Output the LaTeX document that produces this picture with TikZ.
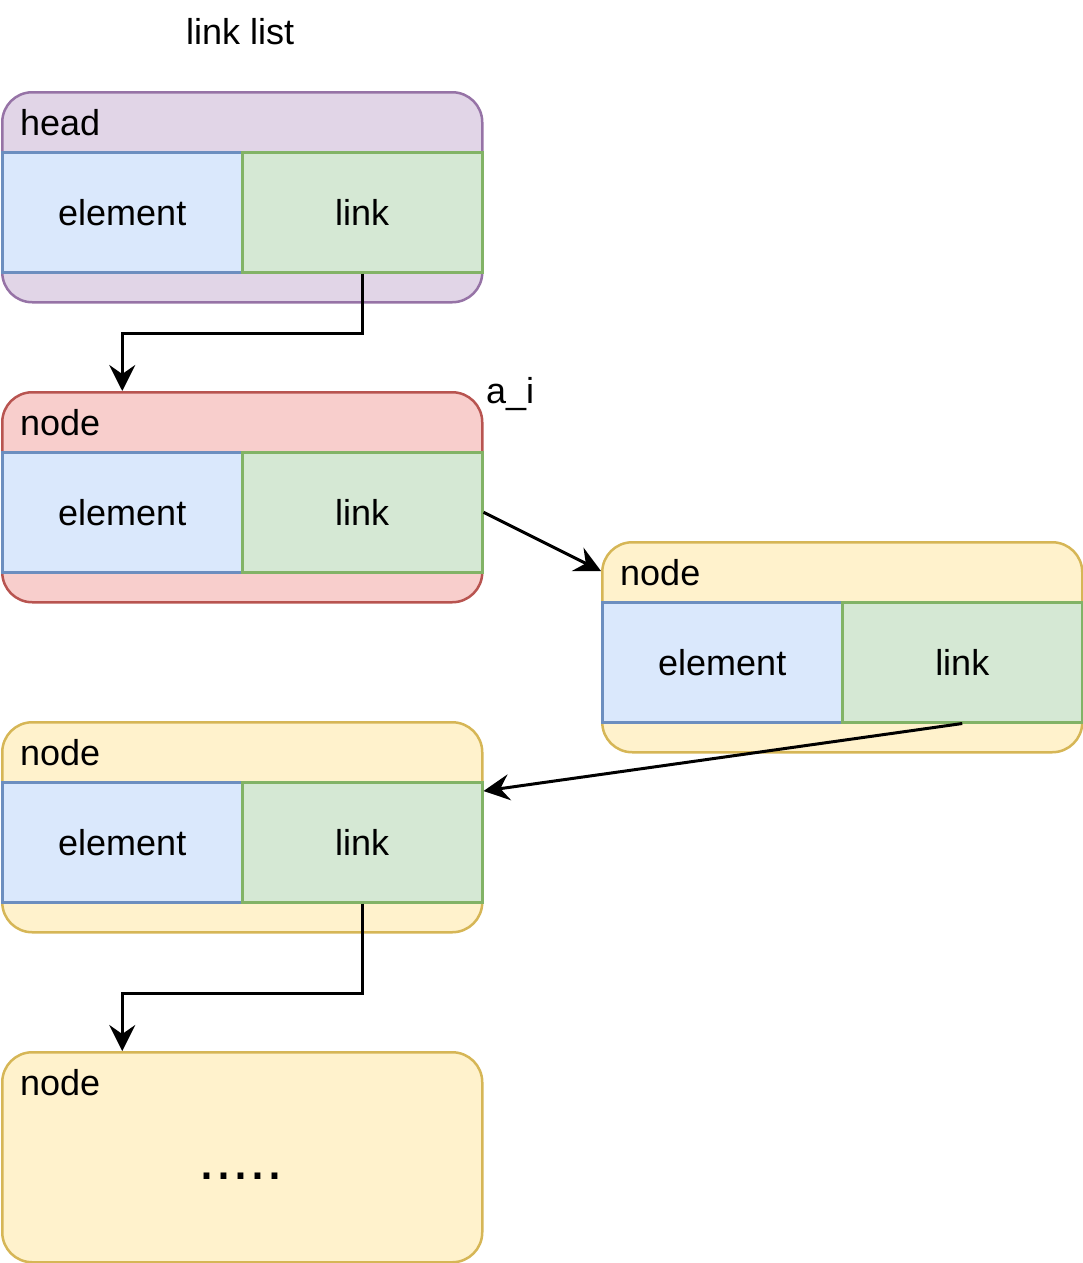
\documentclass[tikz,border=0pt]{standalone}
\usepackage{fontspec}
\setmainfont{Liberation Sans}
\usetikzlibrary{arrows.meta,calc}

\definecolor{purplefill}{HTML}{E1D5E7}
\definecolor{purpleline}{HTML}{9673A6}
\definecolor{redfill}{HTML}{F8CECC}
\definecolor{redline}{HTML}{B85450}
\definecolor{yellowfill}{HTML}{FFF2CC}
\definecolor{yellowline}{HTML}{D6B656}
\definecolor{bluefill}{HTML}{DAE8FC}
\definecolor{blueline}{HTML}{6C8EBF}
\definecolor{greenfill}{HTML}{D5E8D4}
\definecolor{greenline}{HTML}{82B366}

\begin{document}
\begin{tikzpicture}[x=1pt,y=-1pt,
  lane/.style={rounded corners=30pt, line width=2.5pt, inner sep=0pt,
    minimum width=480pt, minimum height=210pt, anchor=north west},
  headlane/.style={lane, fill=purplefill, draw=purpleline},
  redlane/.style={lane, fill=redfill, draw=redline},
  yellowlane/.style={lane, fill=yellowfill, draw=yellowline},
  cell/.style={line width=2.5pt, inner sep=0pt, minimum width=240pt,
    minimum height=120pt, anchor=north west,
    font=\fontsize{36}{43}\selectfont},
  elemcell/.style={cell, fill=bluefill, draw=blueline},
  linkcell/.style={cell, fill=greenfill, draw=greenline},
  label/.style={inner sep=0pt, anchor=base west,
    font=\fontsize{36}{43}\selectfont},
  arr/.style={line width=3pt, -{Stealth[length=26pt,width=26pt,inset=9pt]}}
]
\useasboundingbox (0,0) rectangle (1083,1263);

% title
\node[label] (title) at (186,45) {link list};

% head
\node[headlane] (head) at (1,91) {};
\node[elemcell] (h-e) at (1,151) {element};
\node[linkcell] (h-l) at (241,151) {link};
\node[label] (head-t) at (20,135) {head};

% node a_i
\node[redlane] (n1) at (1,391) {};
\node[elemcell] (n1-e) at (1,451) {element};
\node[linkcell] (n1-l) at (241,451) {link};
\node[label] (n1-t) at (20,435) {node};
\node[label] (ai) at (486,403) {a\_i};

% next node
\node[yellowlane] (n2) at (601,541) {};
\node[elemcell] (n2-e) at (601,601) {element};
\node[linkcell] (n2-l) at (841,601) {link};
\node[label] (n2-t) at (620,585) {node};

% third node
\node[yellowlane] (n3) at (1,721) {};
\node[elemcell] (n3-e) at (1,781) {element};
\node[linkcell] (n3-l) at (241,781) {link};
\node[label] (n3-t) at (20,765) {node};

% last node
\node[yellowlane] (n4) at (1,1051) {};
\node[label] (n4-t) at (20,1095) {node};
\node[inner sep=0pt, anchor=base, font=\fontsize{61}{73}\selectfont] (dots) at (241,1179) {.....};

% links
\draw[arr] (h-l.south) -- ++(0,60) -| (n1.north -| h-e.center);
\draw[arr] (n1-l.east) -- ($(n2.north west)+(0,30)$);
\draw[arr] (n2-l.south) -- ($(n3-l.north east)+(0,10)$);
\draw[arr] (n3-l.south) -- ++(0,90) -| (n4.north -| n3-e.center);
\end{tikzpicture}
\end{document}
